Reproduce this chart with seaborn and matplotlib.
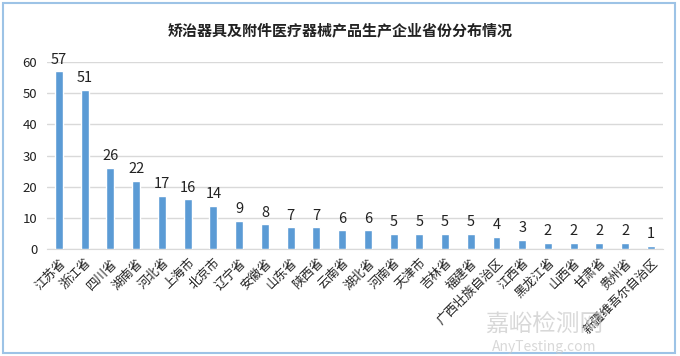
import matplotlib
matplotlib.use("Agg")
import matplotlib.pyplot as plt
import seaborn as sns
import pandas as pd
from matplotlib.patches import Rectangle

provinces = ["江苏省", "浙江省", "四川省", "湖南省", "河北省", "上海市", "北京市", "辽宁省",
             "安徽省", "山东省", "陕西省", "云南省", "湖北省", "河南省", "天津市", "吉林省",
             "福建省", "广西壮族自治区", "江西省", "黑龙江省", "山西省", "甘肃省", "贵州省",
             "新疆维吾尔自治区"]
counts = [57, 51, 26, 22, 17, 16, 14, 9, 8, 7, 7, 6, 6, 5, 5, 5, 5, 4, 3, 2, 2, 2, 2, 1]
title = "矫治器具及附件医疗器械产品生产企业省份分布情况"

sns.set_style("white")
plt.rcParams["font.family"] = ["Noto Sans CJK SC", "DejaVu Sans"]

df = pd.DataFrame({"province": provinces, "count": counts})

fig = plt.figure(figsize=(6.8, 3.56), dpi=100)
ax = fig.add_axes([0.069, 0.30, 0.906, 0.526])

sns.barplot(data=df, x="province", y="count", color="#5B9BD5", width=0.31,
            saturation=1, ax=ax, zorder=3)

for i, v in enumerate(counts):
    ax.text(i, v + 1.5, str(v), ha="center", va="bottom", fontsize=10.5, color="#222222")

ax.set_ylim(0, 60)
ax.set_yticks(range(0, 61, 10))
ax.set_xlim(-0.47, len(provinces) - 0.53)
ax.yaxis.grid(True, color="#D9D9D9", linewidth=1, zorder=0)
ax.set_xlabel("")
ax.set_ylabel("")
for s in ["top", "right", "left"]:
    ax.spines[s].set_visible(False)
ax.spines["bottom"].set_color("#D9D9D9")
ax.tick_params(axis="y", length=0, labelsize=9.5, pad=7, colors="#222222")
ax.tick_params(axis="x", length=0, pad=5, colors="#222222")
plt.setp(ax.get_xticklabels(), rotation=45, ha="right", rotation_mode="anchor", fontsize=9)

fig.text(0.5, 0.915, title, ha="center", va="center", fontsize=10.8, fontweight="bold",
         color="#222222")

# faint watermark at the bottom right
fig.text(0.80, 0.085, "嘉峪检测网", ha="center", va="center", fontsize=17,
         color="#C8C8C8", alpha=0.7)
fig.text(0.80, 0.025, "AnyTesting.com", ha="center", va="center", fontsize=10,
         color="#C8C8C8", alpha=0.7, style="italic")

fig.add_artist(Rectangle((0.005, 0.008), 0.988, 0.984, transform=fig.transFigure,
                         fill=False, edgecolor="#9DC3E6", linewidth=1.5))

fig.savefig("out.png", dpi=100)
